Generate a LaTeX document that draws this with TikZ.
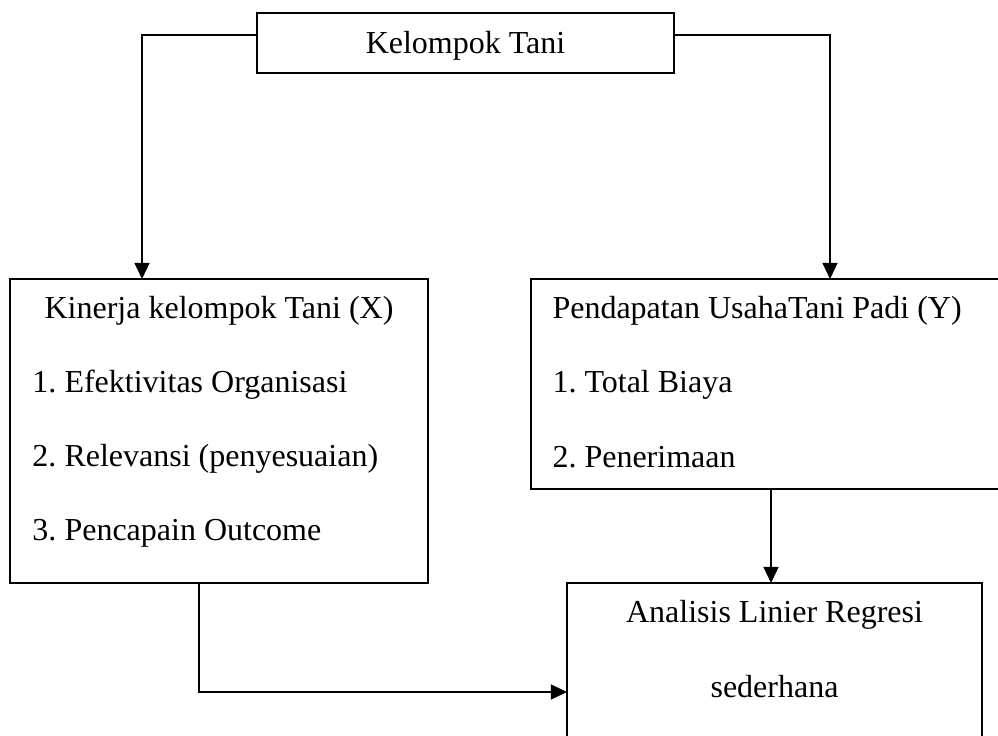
\documentclass[tikz,border=0pt]{standalone}
\usepackage{fontspec}
\setmainfont{Liberation Serif}
\frenchspacing
\usetikzlibrary{arrows.meta}
\tikzset{
  box/.style={rectangle, draw, line width=0.85pt, inner sep=0pt},
  conn/.style={line width=0.85pt, -{Triangle[length=6.5pt,width=6pt]}},
  label/.style={inner sep=0pt, font=\fontsize{12.8}{15}\selectfont}
}
\begin{document}
\begin{tikzpicture}[x=0.4pt,y=-0.4pt]
\useasboundingbox (0,0) rectangle (998,735);
\begin{scope}
\clip (0,0) rectangle (998,735);
% boxes
\node[box, minimum width=166.8pt, minimum height=24pt] (kelompok) at (465.5,43) {};
\node[box, minimum width=167.2pt, minimum height=121.6pt] (kinerja) at (219,431) {};
\node[box, minimum width=189.6pt, minimum height=84pt] (pendapatan) at (768,384) {};
\node[box, minimum width=166pt, minimum height=64pt] (analisis) at (774.5,663) {};

% texts
\node[label, anchor=base] (kelompokT) at (465.5,53) {Kelompok Tani};
\node[label, anchor=base] (kinerjaT) at (219,318) {Kinerja kelompok Tani (X)};
\foreach \i/\txt/\yy in {1/1. Efektivitas Organisasi/392, 2/2. Relevansi (penyesuaian)/466, 3/3. Pencapain Outcome/540}
    \node[label, anchor=base west] (k\i) at (32,\yy) {\txt};
\node[label, anchor=base west] (pendapatanT) at (552,318) {Pendapatan UsahaTani Padi (Y)};
\foreach \i/\txt/\yy in {1/1. Total Biaya/392, 2/2. Penerimaan/467}
    \node[label, anchor=base west] (p\i) at (552,\yy) {\txt};
\node[label, anchor=base] (analisisT) at (774.5,622) {Analisis Linier Regresi};
\node[label, anchor=base] (analisisU) at (774.5,697) {sederhana};

% connectors
\coordinate (kx) at (142,279);
\coordinate (px) at (830,279);
\coordinate (kb) at (199,583);
\coordinate (ax) at (567,692);
\coordinate (pb) at (771,489);
\coordinate (at) at (771,583);
\draw[conn] ([yshift=3.2pt]kelompok.west) -| (kx);
\draw[conn] ([yshift=3.2pt]kelompok.east) -| (px);
\draw[conn] (pb) -- (at);
\draw[conn] (kb) |- (ax);
\end{scope}
\end{tikzpicture}
\end{document}
